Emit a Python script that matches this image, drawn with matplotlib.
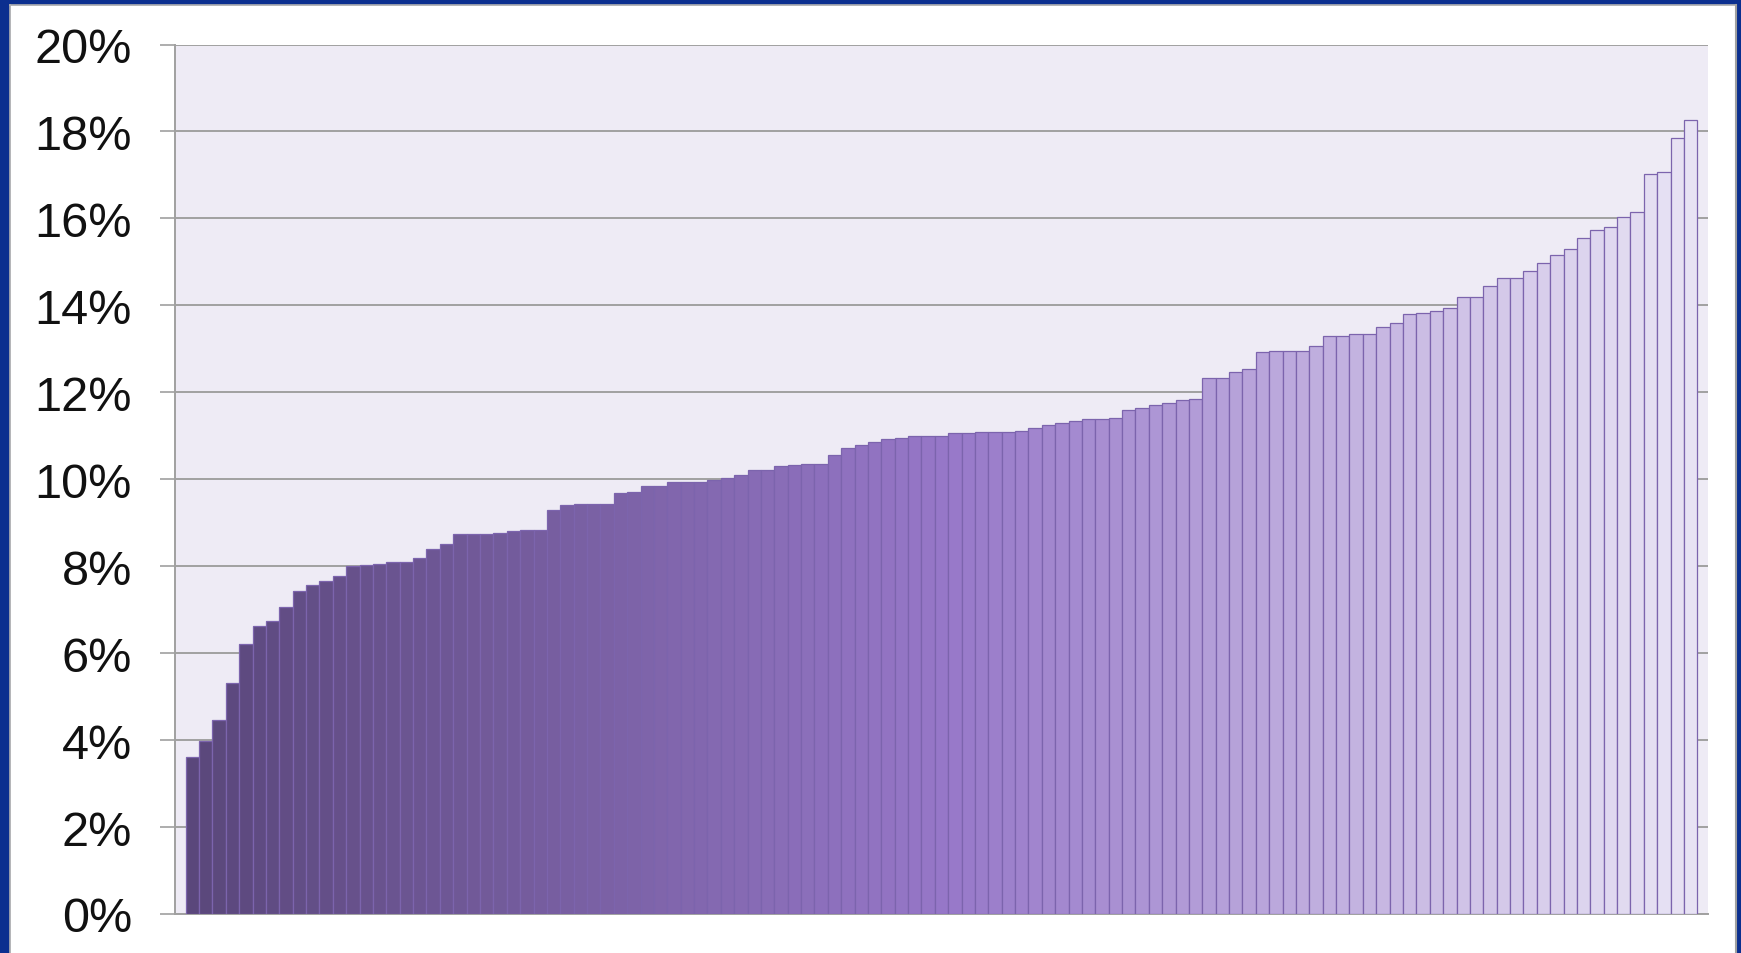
import matplotlib
matplotlib.use("Agg")
import matplotlib.pyplot as plt
from matplotlib.colors import LinearSegmentedColormap
from matplotlib.patches import Rectangle
from matplotlib.ticker import FuncFormatter
import numpy as np

# sorted rates (percent)
rates = [
    3.61, 3.98, 4.47, 5.32, 6.20, 6.62, 6.74, 7.06, 7.44, 7.56,
    7.65, 7.77, 8.01, 8.03, 8.06, 8.09, 8.09, 8.18, 8.39, 8.50,
    8.73, 8.73, 8.74, 8.77, 8.80, 8.83, 8.83, 9.30, 9.41, 9.44,
    9.44, 9.44, 9.68, 9.71, 9.85, 9.85, 9.93, 9.93, 9.93, 9.99,
    10.03, 10.09, 10.21, 10.21, 10.30, 10.33, 10.35, 10.35, 10.56, 10.71,
    10.79, 10.86, 10.92, 10.95, 10.99, 10.99, 10.99, 11.06, 11.06, 11.09,
    11.08, 11.09, 11.12, 11.18, 11.24, 11.30, 11.35, 11.38, 11.38, 11.42,
    11.59, 11.65, 11.70, 11.76, 11.82, 11.85, 12.32, 12.32, 12.47, 12.53,
    12.92, 12.94, 12.96, 12.96, 13.06, 13.30, 13.30, 13.33, 13.33, 13.51,
    13.59, 13.80, 13.82, 13.86, 13.94, 14.19, 14.19, 14.45, 14.62, 14.62,
    14.80, 14.98, 15.15, 15.30, 15.56, 15.74, 15.80, 16.04, 16.15,
    17.03, 17.07, 17.84, 18.27,
]
yticks = [0, 2, 4, 6, 8, 10, 12, 14, 16, 18, 20]

plt.rcParams['font.family'] = ['Liberation Sans', 'DejaVu Sans']

fig = plt.figure(figsize=(17.41, 9.54), dpi=100)
fig.patch.set_facecolor('white')

# blue frame round the slide
blue = '#0b2f8f'
fig.patches.append(Rectangle((0, 0), 8.5 / 1741, 1, transform=fig.transFigure, color=blue, zorder=0))
fig.patches.append(Rectangle((1736.5 / 1741, 0), 4.5 / 1741, 1, transform=fig.transFigure, color=blue, zorder=0))
fig.patches.append(Rectangle((0, 1 - 5 / 954), 1, 5 / 954, transform=fig.transFigure, color=blue, zorder=0))
fig.add_artist(plt.Line2D([9.5 / 1741, 9.5 / 1741], [0, 1 - 5.5 / 954], transform=fig.transFigure, color='#b0b0b0', lw=1.2))
fig.add_artist(plt.Line2D([9.5 / 1741, 1735.5 / 1741], [1 - 6 / 954, 1 - 6 / 954], transform=fig.transFigure, color='#b0b0b0', lw=1.2))
fig.add_artist(plt.Line2D([1735.5 / 1741, 1735.5 / 1741], [0, 1 - 5.5 / 954], transform=fig.transFigure, color='#a0a0a0', lw=1.5))

ax = fig.add_axes([175 / 1741, 1 - 915 / 954, (1708 - 175) / 1741, (915 - 45.5) / 954])
ax.set_facecolor('#eeebf5')

cmap = LinearSegmentedColormap.from_list('purp', [(0, '#5a477b'), (0.5, '#9677c8'), (1, '#e8e3f4')])
n = len(rates)
x = np.arange(n)
colors = [cmap(i / (n - 1)) for i in range(n)]
ax.bar(x, rates, width=1.0, color=colors, edgecolor='#7c64ad', linewidth=0.9, zorder=3)

ax.set_xlim(-1.3, n + 0.3)
ax.set_ylim(0, 20)
ax.set_yticks(yticks)
ax.yaxis.set_major_formatter(FuncFormatter(lambda v, p: '%d%%' % v))
ax.set_xticks([])
ax.grid(axis='y', color='#a0a0a0', linewidth=1.4, zorder=1)
ax.tick_params(axis='y', length=11, width=1.2, color='#a0a0a0', labelsize=35, pad=20, labelcolor='#111111')
for s in ['top', 'right']:
    ax.spines[s].set_visible(False)
ax.spines['left'].set_color('#a0a0a0')
ax.spines['left'].set_linewidth(1.4)
ax.spines['bottom'].set_color('#a0a0a0')
ax.spines['bottom'].set_linewidth(1.4)

fig.savefig('out.png', dpi=100)
